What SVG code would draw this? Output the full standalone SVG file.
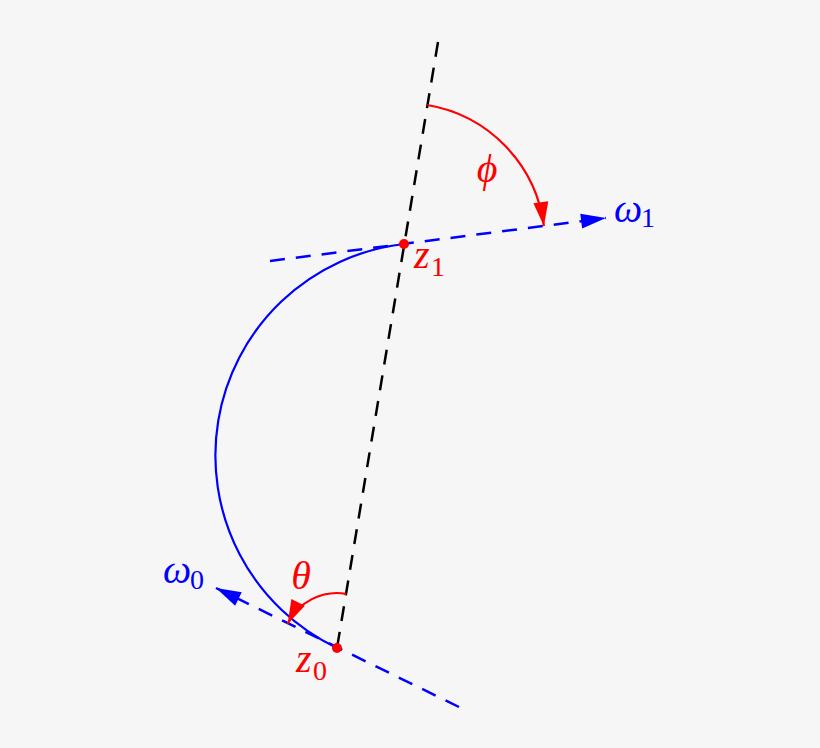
<svg xmlns="http://www.w3.org/2000/svg" width="820" height="748" viewBox="0 0 820 748">
<style>
.bg{fill:#f6f6f7}
.dk{fill:none;stroke:#000;stroke-width:2.5;stroke-dasharray:15 11}
.db{fill:none;stroke:#0000ff;stroke-width:2.5;stroke-dasharray:15 11}
.sb{fill:none;stroke:#0000ff;stroke-width:2.2}
.sr{fill:none;stroke:#ff0000;stroke-width:2.2}
.m{font-family:"Liberation Serif","DejaVu Serif",serif;font-style:italic;font-size:40px}
.s{font-style:normal;font-size:28px}
.r{fill:#ff0000}
.b{fill:#0000ff}
</style>
<defs>
<marker id="ab" markerUnits="userSpaceOnUse" orient="auto" overflow="visible" markerWidth="30" markerHeight="30"><path d="M0,0 L-25,-7.5 L-25,7.5 Z" fill="#0000ff"/></marker>
<marker id="ar" markerUnits="userSpaceOnUse" orient="auto" overflow="visible" markerWidth="30" markerHeight="30"><path d="M0,0 L-24,-7.5 L-24,7.5 Z" fill="#ff0000"/></marker>
</defs>
<rect class="bg" x="0" y="0" width="820" height="748"/>
<g id="connectors">
<path class="dk" d="M438,42 L337,648"/>
<path class="db" d="M270,261 L606,218" marker-end="url(#ab)"/>
<path class="db" d="M459,707 L216,588" marker-end="url(#ab)"/>
<path class="sb" d="M404,244 A213,213 0 0 0 337,648"/>
<path class="sr" d="M427.3,105 A141,141 0 0 1 543.9,226.1" marker-end="url(#ar)"/>
<path class="sr" d="M346.1,593.8 A55,55 0 0 0 287.6,623.9" marker-end="url(#ar)"/>
</g>
<g id="z1"><circle class="r" cx="404" cy="244" r="5"/><text class="m r" x="414" y="268">z<tspan class="s" x="431" y="276">1</tspan></text></g>
<g id="z0"><circle class="r" cx="337" cy="648" r="5"/><text class="m r" x="296" y="672">z<tspan class="s" x="313" y="680">0</tspan></text></g>
<g id="w1"><text class="m b" x="614" y="222">ω<tspan class="s" x="641" y="227">1</tspan></text></g>
<g id="w0"><text class="m b" x="163" y="583">ω<tspan class="s" x="190" y="589">0</tspan></text></g>
<g id="phi"><text class="m r" x="487" y="182" text-anchor="middle">ϕ</text></g>
<g id="theta"><text class="m r" x="301" y="589" text-anchor="middle">θ</text></g>
</svg>
